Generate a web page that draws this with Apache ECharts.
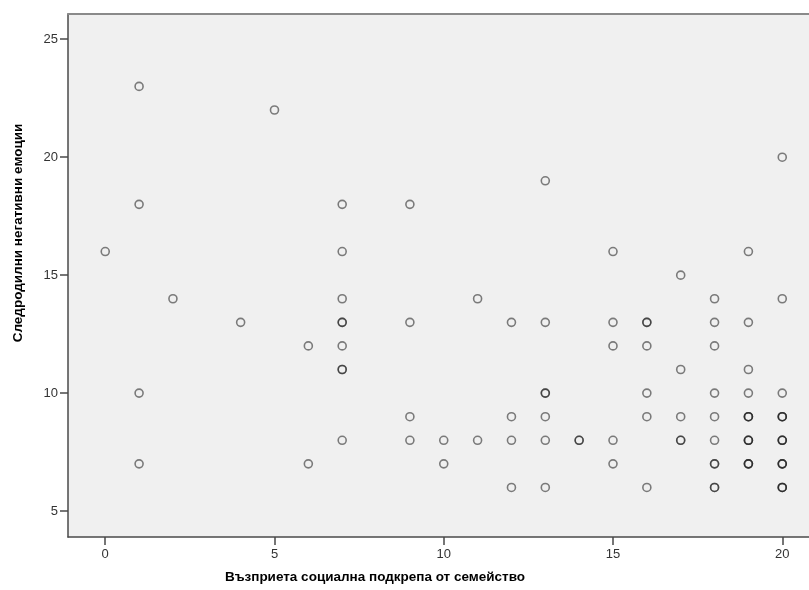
<!DOCTYPE html>
<html>
<head>
<meta charset="utf-8">
<script src="https://cdn.jsdelivr.net/npm/echarts@6/dist/echarts.min.js"></script>
<style>
  html, body { margin: 0; padding: 0; background: #fff; }
  #chart { width: 809px; height: 590px; }
</style>
</head>
<body>
<div id="chart"></div>
<script>
// Възприета социална подкрепа от семейство (x) / Следродилни негативни емоции (y)
// repeated pairs are overlapping cases (drawn darker)
const supportFamily = [
  0,
  1, 1, 1, 1,
  2,
  4,
  5,
  6, 6,
  7, 7, 7, 7, 7, 7, 7, 7, 7,
  9, 9, 9, 9,
  10, 10,
  11, 11,
  12, 12, 12, 12,
  13, 13, 13, 13, 13, 13, 13,
  14, 14,
  15, 15, 15, 15, 15,
  16, 16, 16, 16, 16, 16,
  17, 17, 17, 17, 17,
  18, 18, 18, 18, 18, 18, 18, 18, 18, 18,
  19, 19, 19, 19, 19, 19, 19, 19, 19, 19, 19, 19, 19,
  20, 20, 20, 20, 20, 20, 20, 20, 20, 20, 20, 20, 20, 20, 20
];
const negativeEmotions = [
  16,
  23, 18, 10, 7,
  14,
  13,
  22,
  12, 7,
  18, 16, 14, 13, 13, 12, 11, 11, 8,
  18, 13, 9, 8,
  8, 7,
  14, 8,
  13, 9, 8, 6,
  19, 13, 10, 10, 9, 8, 6,
  8, 8,
  16, 13, 12, 8, 7,
  13, 13, 12, 10, 9, 6,
  15, 11, 9, 8, 8,
  14, 13, 12, 10, 9, 8, 7, 7, 6, 6,
  16, 13, 11, 10, 9, 9, 9, 8, 8, 8, 7, 7, 7,
  20, 14, 10, 9, 9, 9, 8, 8, 8, 7, 7, 7, 6, 6, 6
];
const xTicks = [0, 5, 10, 15, 20];
const yTicks = [5, 10, 15, 20, 25];

const xTitle = 'Възприета социална подкрепа от семейство';
const yTitle = 'Следродилни негативни емоции';

const points = supportFamily.map((x, i) => [x, negativeEmotions[i]]);

const chart = echarts.init(document.getElementById('chart'));

const labelFont = 'Liberation Sans, Arial, sans-serif';
const axisColor = '#4a4a4a';

const option = {
  animation: false,
  grid: {
    left: 68,
    top: 14,
    right: 0,
    bottom: 53,
    show: true,
    backgroundColor: '#f0f0f0',
    borderWidth: 0
  },
  xAxis: [{
    type: 'value',
    min: -1.1,
    max: 20.79,
    splitLine: { show: false },
    axisLine: { onZero: false, lineStyle: { color: axisColor, width: 1.5 } },
    axisTick: { show: true, length: 8, customValues: xTicks, lineStyle: { color: axisColor, width: 1.5 } },
    axisLabel: { customValues: xTicks, color: '#333', fontSize: 13, fontFamily: labelFont, margin: 11 }
  }, {
    // top frame line of the plot area
    type: 'value',
    position: 'top',
    min: -1.1,
    max: 20.79,
    splitLine: { show: false },
    axisLine: { onZero: false, lineStyle: { color: '#8a8a8a', width: 2 } },
    axisTick: { show: false },
    axisLabel: { show: false }
  }],
  yAxis: {
    type: 'value',
    min: 3.9,
    max: 26.07,
    splitLine: { show: false },
    axisLine: { onZero: false, lineStyle: { color: axisColor, width: 1.5 } },
    axisTick: { show: true, length: 8, customValues: yTicks, lineStyle: { color: axisColor, width: 1.5 } },
    axisLabel: { customValues: yTicks, color: '#333', fontSize: 13, fontFamily: labelFont, margin: 10 }
  },
  graphic: [{
    type: 'text',
    x: 375,
    y: 577,
    style: {
      text: xTitle,
      fill: '#000',
      font: 'bold 13.5px ' + labelFont,
      align: 'center',
      verticalAlign: 'middle'
    }
  }, {
    type: 'text',
    x: 18,
    y: 233,
    rotation: Math.PI / 2,
    style: {
      text: yTitle,
      fill: '#000',
      font: 'bold 13.5px ' + labelFont,
      align: 'center',
      verticalAlign: 'middle'
    }
  }],
  series: [{
    type: 'scatter',
    data: points,
    symbol: 'circle',
    symbolSize: 8,
    itemStyle: {
      color: 'transparent',
      borderColor: 'rgba(30,30,30,0.7)',
      borderWidth: 1.6
    }
  }]
};

chart.setOption(option);
</script>
</body>
</html>
